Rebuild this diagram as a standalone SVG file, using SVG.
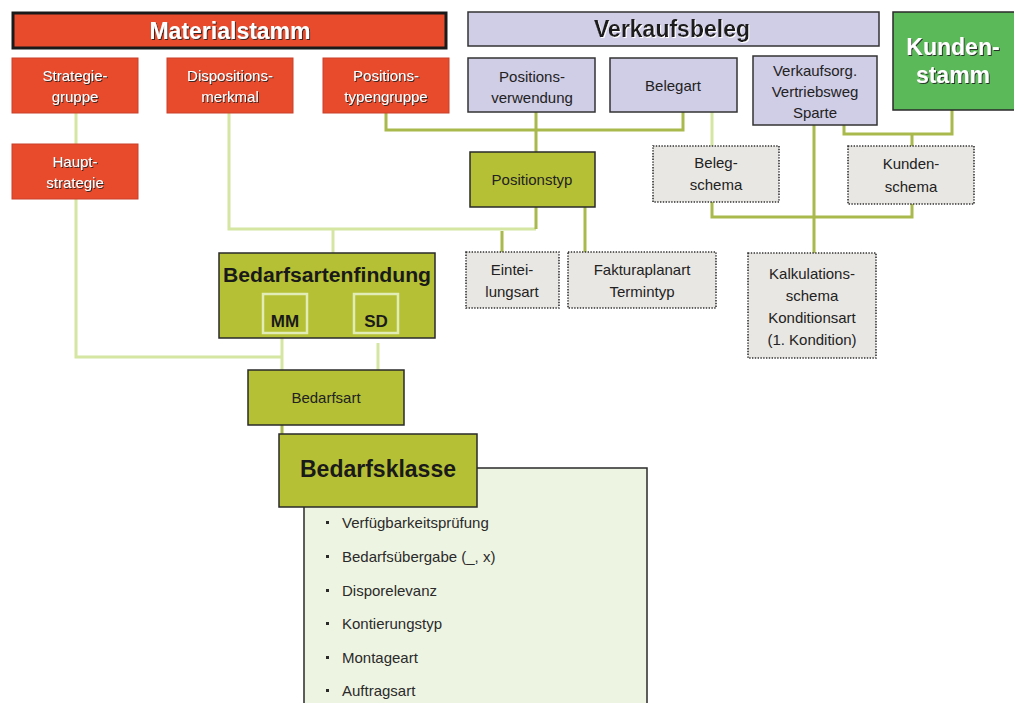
<svg xmlns="http://www.w3.org/2000/svg" width="1014" height="703" viewBox="0 0 1014 703">
<defs>
<filter id="shd" x="-10%" y="-10%" width="130%" height="140%"><feDropShadow dx="1" dy="1" stdDeviation="0.4" flood-color="#222" flood-opacity="0.9"/></filter>
<filter id="shl" x="-10%" y="-10%" width="130%" height="140%"><feDropShadow dx="1" dy="1" stdDeviation="0.3" flood-color="#fff" flood-opacity="1"/></filter>
</defs>
<style>
text{font-family:"Liberation Sans",Arial,sans-serif;text-anchor:middle}
.red{fill:#e84a2c;stroke:#c9402a;stroke-width:1}
.lav{fill:#d0cde6;stroke:#333;stroke-width:1.5}
.oli{fill:#b5c035;stroke:#2a2a2a;stroke-width:1.5}
.dot{fill:#e9e7e3;stroke:#333;stroke-width:1.6;stroke-dasharray:1.4 1.4}
.wt{fill:#fff;font-size:15px;filter:url(#shd)}
.dk{fill:#222;font-size:15px}
.hb{font-weight:bold;font-size:23px}
.cl{fill:none;stroke:#d4e6a2;stroke-width:3}
.co{fill:none;stroke:#a9b94c;stroke-width:3}
.li{fill:#2a2a2a;font-size:15px;text-anchor:start}
</style>
<g id="connectors">
<path class="cl" d="M76,113V144"/>
<path class="cl" d="M76,199V357H282"/>
<path class="cl" d="M282,338V370"/>
<path class="cl" d="M378,343V370"/>
<path class="cl" d="M229,113V229H536"/>
<path class="cl" d="M333,229V253"/>
<path class="co" d="M536,207V229"/>
<path class="co" d="M502,231V252"/>
<path class="co" d="M585,207V252"/>
<path class="co" d="M386,113V130H683V112"/>
<path class="co" d="M536,112V152"/>
<path class="cl" d="M712,112V146"/>
<path class="co" d="M712,202V217H912V204"/>
<path class="co" d="M814,125V253"/>
<path class="co" d="M844,125V134H952V110"/>
<path class="co" d="M912,134V146"/>
<path class="co" d="M282,425V434"/>
</g>
<g id="materialstamm">
<rect x="13" y="13" width="433" height="35" fill="#e84a2c" stroke="#1a1a1a" stroke-width="3"/>
<text x="230" y="39" class="hb" fill="#fff" filter="url(#shd)">Materialstamm</text>
</g>
<g id="verkaufsbeleg">
<rect x="468" y="12" width="411" height="34" class="lav"/>
<text x="672" y="37" class="hb" fill="#1a1a1a" filter="url(#shl)">Verkaufsbeleg</text>
</g>
<g id="kundenstamm">
<rect x="893" y="12" width="125" height="98" fill="#5bb95a" stroke="#2a2a2a" stroke-width="1.5"/>
<text x="953" y="55" class="hb" fill="#fff" filter="url(#shd)">Kunden-</text>
<text x="953" y="83" class="hb" fill="#fff" filter="url(#shd)">stamm</text>
</g>
<g id="strategiegruppe">
<rect x="12" y="58" width="126" height="55" class="red"/>
<text x="75" y="81" class="wt">Strategie-</text>
<text x="75" y="102" class="wt">gruppe</text>
</g>
<g id="dispositionsmerkmal">
<rect x="167" y="58" width="126" height="55" class="red"/>
<text x="230" y="81" class="wt">Dispositions-</text>
<text x="230" y="102" class="wt">merkmal</text>
</g>
<g id="positionstypengruppe">
<rect x="323" y="58" width="126" height="55" class="red"/>
<text x="386" y="81" class="wt">Positions-</text>
<text x="386" y="102" class="wt">typengruppe</text>
</g>
<g id="hauptstrategie">
<rect x="12" y="144" width="126" height="55" class="red"/>
<text x="75" y="167" class="wt">Haupt-</text>
<text x="75" y="188" class="wt">strategie</text>
</g>
<g id="positionsverwendung">
<rect x="468" y="58" width="127" height="54" class="lav"/>
<text x="532" y="82" class="dk">Positions-</text>
<text x="532" y="103" class="dk">verwendung</text>
</g>
<g id="belegart">
<rect x="610" y="58" width="127" height="54" class="lav"/>
<text x="673" y="91" class="dk">Belegart</text>
</g>
<g id="verkaufsorg">
<rect x="753" y="56" width="124" height="69" class="lav"/>
<text x="815" y="76" class="dk">Verkaufsorg.</text>
<text x="815" y="97" class="dk">Vertriebsweg</text>
<text x="815" y="118" class="dk">Sparte</text>
</g>
<g id="positionstyp">
<rect x="470" y="152" width="125" height="55" class="oli"/>
<text x="532" y="185" class="dk">Positionstyp</text>
</g>
<g id="belegschema">
<rect x="653" y="146" width="126" height="56" class="dot"/>
<text x="716" y="168" class="dk">Beleg-</text>
<text x="716" y="190" class="dk">schema</text>
</g>
<g id="kundenschema">
<rect x="848" y="146" width="126" height="58" class="dot"/>
<text x="911" y="169" class="dk">Kunden-</text>
<text x="911" y="192" class="dk">schema</text>
</g>
<g id="bedarfsartenfindung">
<rect x="219" y="253" width="216" height="85" class="oli"/>
<text x="327" y="282" fill="#1a1a1a" font-weight="bold" font-size="20" textLength="208" lengthAdjust="spacingAndGlyphs">Bedarfsartenfindung</text>
<rect x="263" y="294" width="44" height="39" fill="#b5c035" stroke="#e2ecb6" stroke-width="2.5"/>
<text x="285" y="327" fill="#1a1a1a" font-weight="bold" font-size="17">MM</text>
<rect x="354" y="294" width="44" height="39" fill="#b5c035" stroke="#e2ecb6" stroke-width="2.5"/>
<text x="376" y="327" fill="#1a1a1a" font-weight="bold" font-size="17">SD</text>
</g>
<g id="einteilungsart">
<rect x="466" y="252" width="93" height="56" class="dot"/>
<text x="512" y="275" class="dk">Eintei-</text>
<text x="512" y="297" class="dk">lungsart</text>
</g>
<g id="fakturaplanart">
<rect x="568" y="252" width="148" height="56" class="dot"/>
<text x="642" y="275" class="dk">Fakturaplanart</text>
<text x="642" y="297" class="dk">Termintyp</text>
</g>
<g id="kalkulationsschema">
<rect x="748" y="253" width="128" height="105" class="dot"/>
<text x="812" y="279" class="dk">Kalkulations-</text>
<text x="812" y="301" class="dk">schema</text>
<text x="812" y="323" class="dk">Konditionsart</text>
<text x="812" y="345" class="dk">(1. Kondition)</text>
</g>
<g id="bedarfsart">
<rect x="248" y="370" width="156" height="55" class="oli"/>
<text x="326" y="403" class="dk">Bedarfsart</text>
</g>
<g id="bedarfsklasse">
<rect x="304" y="468" width="343" height="250" fill="#eef4e2" stroke="#2a2a2a" stroke-width="1.5"/>
<rect x="279" y="434" width="198" height="73" class="oli"/>
<text x="378" y="477" fill="#1a1a1a" font-weight="bold" font-size="23">Bedarfsklasse</text>
<g fill="#2a2a2a">
<rect x="326" y="521" width="3" height="3"/>
<rect x="326" y="555" width="3" height="3"/>
<rect x="326" y="589" width="3" height="3"/>
<rect x="326" y="622" width="3" height="3"/>
<rect x="326" y="656" width="3" height="3"/>
<rect x="326" y="689" width="3" height="3"/>
</g>
<text x="342" y="528" class="li">Verfügbarkeitsprüfung</text>
<text x="342" y="562" class="li">Bedarfsübergabe (_, x)</text>
<text x="342" y="596" class="li">Disporelevanz</text>
<text x="342" y="629" class="li">Kontierungstyp</text>
<text x="342" y="663" class="li">Montageart</text>
<text x="342" y="696" class="li">Auftragsart</text>
</g>
</svg>
